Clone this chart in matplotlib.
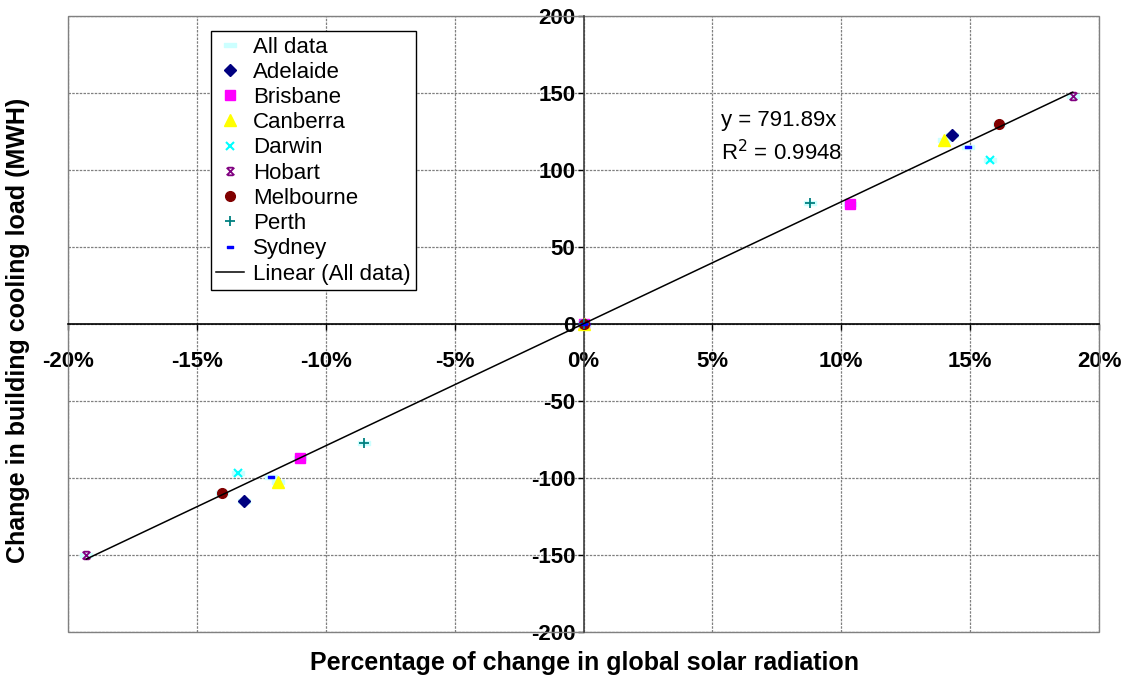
import matplotlib
matplotlib.use("Agg")
import matplotlib.pyplot as plt
from matplotlib.path import Path
from matplotlib.patches import Rectangle
from matplotlib.ticker import FuncFormatter
import numpy as np

plt.rcParams['font.family'] = ['Liberation Sans', 'DejaVu Sans']

# Data: percentage change in global solar radiation (as fraction) and change in cooling load (MWH)
cities = ["Adelaide", "Brisbane", "Canberra", "Darwin", "Hobart", "Melbourne", "Perth", "Sydney"]
adelaide_x = [-0.1319, 0.0, 0.1430]
adelaide_y = [-114.9, 0.0, 122.5]
brisbane_x = [-0.1102, 0.0, 0.1034]
brisbane_y = [-86.9, 0.0, 77.5]
canberra_x = [-0.1186, 0.0, 0.1399]
canberra_y = [-102.5, 0.0, 119.2]
darwin_x = [-0.1342, 0.0, 0.1578]
darwin_y = [-96.9, 0.0, 106.4]
hobart_x = [-0.1930, 0.0, 0.1898]
hobart_y = [-150.5, 0.0, 147.7]
melbourne_x = [-0.1403, 0.0, 0.1610]
melbourne_y = [-109.9, 0.0, 129.6]
perth_x = [-0.0853, 0.0, 0.0877]
perth_y = [-77.7, 0.0, 78.2]
sydney_x = [-0.1213, 0.0, 0.1490]
sydney_y = [-99.5, 0.0, 114.7]

trend_slope = 791.89
trend_r2 = 0.9948

x_ticks = [-0.20, -0.15, -0.10, -0.05, 0.0, 0.05, 0.10, 0.15, 0.20]
y_ticks = [-200, -150, -100, -50, 0, 50, 100, 150, 200]

series_x = [adelaide_x, brisbane_x, canberra_x, darwin_x, hobart_x, melbourne_x, perth_x, sydney_x]
series_y = [adelaide_y, brisbane_y, canberra_y, darwin_y, hobart_y, melbourne_y, perth_y, sydney_y]

star = Path([(-1, -1), (1, 1), (-1, 1), (1, -1), (-0.7, -1), (0.7, -1), (-0.7, 1), (0.7, 1)],
            [Path.MOVETO, Path.LINETO, Path.MOVETO, Path.LINETO, Path.MOVETO, Path.LINETO,
             Path.MOVETO, Path.LINETO])
dash = Path([(-1, -0.4), (1, -0.4), (1, 0.4), (-1, 0.4), (-1, -0.4)],
            [Path.MOVETO, Path.LINETO, Path.LINETO, Path.LINETO, Path.CLOSEPOLY])

styles = {
    "Adelaide": dict(marker='D', color='#000080', ms=6),
    "Brisbane": dict(marker='s', color='#FF00FF', ms=7),
    "Canberra": dict(marker='^', color='#FFFF00', ms=8),
    "Darwin": dict(marker='x', color='#00FFFF', ms=6, mew=1.5),
    "Hobart": dict(marker=star, color='#800080', ms=5.5, mew=1.3),
    "Melbourne": dict(marker='o', color='#800000', ms=7),
    "Perth": dict(marker='+', color='#008080', ms=7, mew=1.3),
    "Sydney": dict(marker=dash, color='#0000FF', ms=5),
}

fig = plt.figure(figsize=(11.3, 6.81), dpi=100)
ax = fig.add_axes([68.3 / 1130, (681 - 631.7) / 681, (1099 - 68.3) / 1130, (631.7 - 15.7) / 681])

ax.set_xlim(-0.20, 0.20)
ax.set_ylim(-200, 200)

# grid
ax.set_xticks(x_ticks)
ax.set_yticks(y_ticks)
ax.grid(True, color='#808080', linestyle=(0, (2, 1)), linewidth=0.9)
ax.set_axisbelow(True)

# All data
all_x = np.concatenate(series_x)
all_y = np.concatenate(series_y)
h_all, = ax.plot(all_x, all_y, linestyle='none', marker=dash, color='#CCFFFF', ms=8,
                 label='All data', zorder=2)

handles = [h_all]
for name, xs, ys in zip(cities, series_x, series_y):
    st = styles[name]
    kw = dict(linestyle='none', marker=st['marker'], ms=st['ms'], label=name, zorder=3)
    if st['marker'] in ('x', '+') or st['marker'] is star:
        kw.update(color=st['color'], mew=st.get('mew', 1.2))
    else:
        kw.update(mfc=st['color'], mec=st['color'], color=st['color'])
    h, = ax.plot(xs, ys, **kw)
    handles.append(h)

# trend line
tx = np.array([all_x.min(), all_x.max()])
h_lin, = ax.plot(tx, trend_slope * tx, color='black', lw=1.1, label='Linear (All data)', zorder=4)
handles.append(h_lin)

# center axes
ax.spines['left'].set_position('zero')
ax.spines['bottom'].set_position('zero')
ax.spines['top'].set_visible(False)
ax.spines['right'].set_visible(False)
ax.spines['left'].set_color('#404040')
ax.spines['bottom'].set_color('black')
ax.spines['left'].set_linewidth(1.2)
ax.spines['bottom'].set_linewidth(1.2)
ax.add_patch(Rectangle((0, 0), 1, 1, transform=ax.transAxes, fill=False,
                       ec='#808080', lw=1.0, clip_on=False, zorder=1))

ax.xaxis.set_major_formatter(FuncFormatter(lambda v, p: f"{v*100:.0f}%"))
ax.yaxis.set_major_formatter(FuncFormatter(lambda v, p: f"{v:.0f}"))
ax.tick_params(axis='x', direction='out', length=4, width=1, pad=16, labelsize=16)
ax.tick_params(axis='y', direction='out', length=4, width=1, pad=2, labelsize=16)
for lab in ax.get_xticklabels() + ax.get_yticklabels():
    lab.set_fontweight('bold')

# trend equation
ax.text(0.0532, 131.8, f"y = {trend_slope:.2f}x", fontsize=16, va='center', ha='left')
ax.text(0.0532, 110.8, f"R$^2$ = {trend_r2:.4f}", fontsize=16, va='center', ha='left')

leg = ax.legend(handles=handles, loc='upper left',
                bbox_to_anchor=((210.7 - 68.3) / 1030.7, (631.7 - 31) / 616),
                fontsize=16, frameon=True, fancybox=False, edgecolor='black', framealpha=1,
                borderpad=0.25, labelspacing=0.19, handlelength=1.25, handletextpad=0.4,
                borderaxespad=0)
leg.get_frame().set_linewidth(1.0)
leg.set_zorder(10)

fig.text(584 / 1130, 1 - 663 / 681, "Percentage of change in global solar radiation",
         fontsize=18, fontweight='bold', ha='center', va='center')
fig.text(18 / 1130, 1 - 330 / 681, "Change in building cooling load (MWH)",
         fontsize=18, fontweight='bold', ha='center', va='center', rotation=90)

fig.savefig("out.png", dpi=100)
